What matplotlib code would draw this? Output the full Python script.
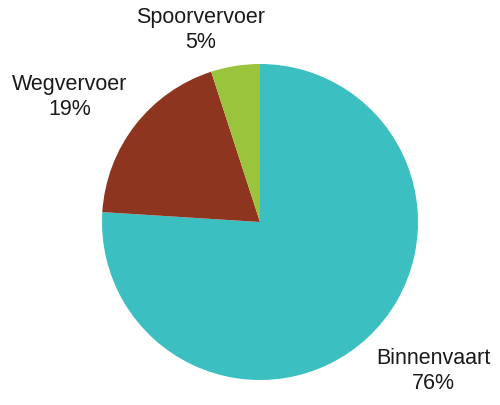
import matplotlib.pyplot as plt

categories = ["Binnenvaart", "Wegvervoer", "Spoorvervoer"]
shares = [76, 19, 5]
colors = ["#3CBFC1", "#8E3520", "#9AC43C"]

# label anchor points in pixel coordinates (from bottom-left)
label_pos = [(433, 34), (70, 308), (201, 375)]


def main() -> None:
    plt.rcParams["font.family"] = ["Liberation Sans", "DejaVu Sans"]
    fig = plt.figure(figsize=(5, 4.05), dpi=100)
    ax = fig.add_axes([0, 0, 1, 1])
    ax.pie(shares, colors=colors, startangle=90, counterclock=False,
           center=(260, 183), radius=158, frame=True,
           wedgeprops={"linewidth": 0})
    for name, val, (x, y) in zip(categories, shares, label_pos):
        ax.text(x, y, f"{name}\n{val}%", ha="center", va="center",
                fontsize=15.5, color="#1a1a1a", linespacing=1.27)
    ax.set_xlim(0, 500)
    ax.set_ylim(0, 405)
    ax.set_aspect("equal")
    ax.axis("off")
    fig.savefig("out.png", dpi=100)
    plt.close(fig)


if __name__ == "__main__":
    main()
